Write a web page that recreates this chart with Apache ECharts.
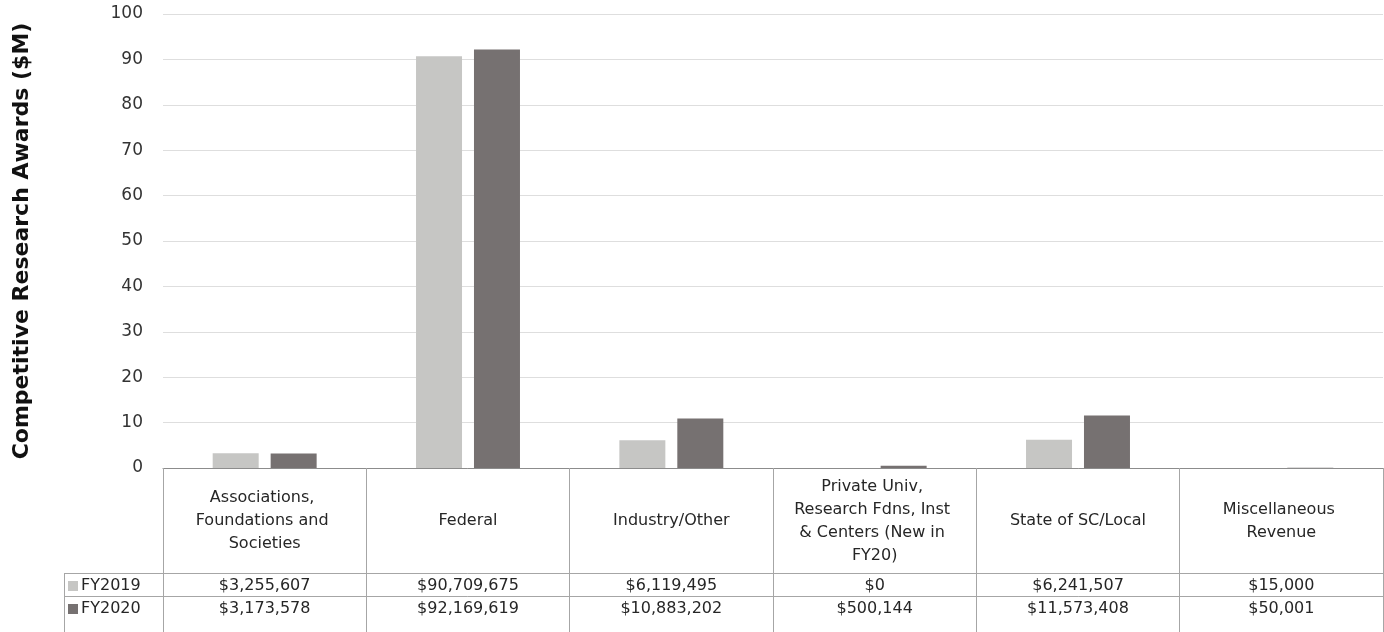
<!DOCTYPE html>
<html>
<head>
<meta charset="utf-8">
<script src="https://cdn.jsdelivr.net/npm/echarts@6/dist/echarts.min.js"></script>
<style>
html,body{margin:0;padding:0;background:#fff;}
#chart{width:1384px;height:632px;}
</style>
</head>
<body>
<div id="chart"></div>
<script>
const categories = [
  "Associations, Foundations and Societies",
  "Federal",
  "Industry/Other",
  "Private Univ, Research Fdns, Inst & Centers (New in FY20)",
  "State of SC/Local",
  "Miscellaneous Revenue"
];
const seriesNames = ["FY2019", "FY2020"];
const fy2019 = [3255607, 90709675, 6119495, 0, 6241507, 15000];
const fy2020 = [3173578, 92169619, 10883202, 500144, 11573408, 50001];
const yTicks = { min: 0, max: 100, interval: 10 };
const yTitle = "Competitive Research Awards ($M)";

const colors = ["#c6c6c4", "#767171"];
const lineColor = "#a6a6a6";
const txt = "#262626";
const tableFont = "DejaVu Sans";

function money(v) { return "$" + v.toLocaleString("en-US"); }

const chart = echarts.init(document.getElementById("chart"), null, { renderer: "canvas" });

function valueAxis(values, offset) {
  return {
    type: "category",
    data: categories,
    position: "bottom",
    offset: offset,
    axisLine: { show: true, lineStyle: { color: lineColor, width: 1 } },
    axisTick: { show: false },
    axisLabel: {
      interval: 0,
      margin: 13,
      verticalAlign: "middle",
      fontFamily: tableFont,
      fontSize: 16,
      color: txt,
      formatter: function (v, i) { return money(values[i]); }
    }
  };
}

chart.setOption({
  animation: false,
  backgroundColor: "#fff",
  grid: { left: 163, right: 1, top: 14, bottom: 164, containLabel: false },
  legend: {
    data: seriesNames,
    orient: "vertical",
    left: 63,
    top: 573,
    itemWidth: 10,
    itemHeight: 10,
    itemGap: 7,
    icon: "rect",
    textStyle: { fontFamily: tableFont, fontSize: 16, color: txt, padding: [0, 0, 0, -2] }
  },
  xAxis: [
    {
      type: "category",
      data: categories,
      position: "bottom",
      axisLine: { show: true, lineStyle: { color: "#8c8c8c", width: 1 } },
      axisTick: { show: true, interval: 0, length: 164, lineStyle: { color: lineColor } },
      axisLabel: {
        interval: 0,
        margin: 53,
        verticalAlign: "middle",
        width: 170,
        overflow: "break",
        lineHeight: 23,
        fontFamily: tableFont,
        fontSize: 16,
        color: txt,
        align: "center"
      }
    },
    valueAxis(fy2019, 105),
    valueAxis(fy2020, 128)
  ],
  yAxis: {
    type: "value",
    min: yTicks.min,
    max: yTicks.max,
    interval: yTicks.interval,
    name: yTitle,
    nameLocation: "middle",
    nameGap: 130,
    nameTextStyle: { fontFamily: "DejaVu Sans", fontWeight: "bold", fontSize: 22, color: "#111" },
    axisLine: { show: false },
    axisTick: { show: false },
    axisLabel: { fontFamily: "DejaVu Sans", fontSize: 17, color: "#333", margin: 20 },
    splitLine: { lineStyle: { color: "#dedede", width: 1 } }
  },
  series: [
    {
      name: seriesNames[0], type: "bar", xAxisIndex: 0,
      data: fy2019.map(v => v / 1e6),
      barWidth: 46, barGap: "26%",
      itemStyle: { color: colors[0] }
    },
    {
      name: seriesNames[1], type: "bar", xAxisIndex: 0,
      data: fy2020.map(v => v / 1e6),
      barWidth: 46, barGap: "26%",
      itemStyle: { color: colors[1] }
    }
  ],
  graphic: [
    { type: "line", shape: { x1: 64.5, y1: 573, x2: 64.5, y2: 632 }, style: { stroke: lineColor, lineWidth: 1 } },
    { type: "line", shape: { x1: 64, y1: 573.5, x2: 163, y2: 573.5 }, style: { stroke: lineColor, lineWidth: 1 } },
    { type: "line", shape: { x1: 64, y1: 596.5, x2: 163, y2: 596.5 }, style: { stroke: lineColor, lineWidth: 1 } }
  ]
});
</script>
</body>
</html>
